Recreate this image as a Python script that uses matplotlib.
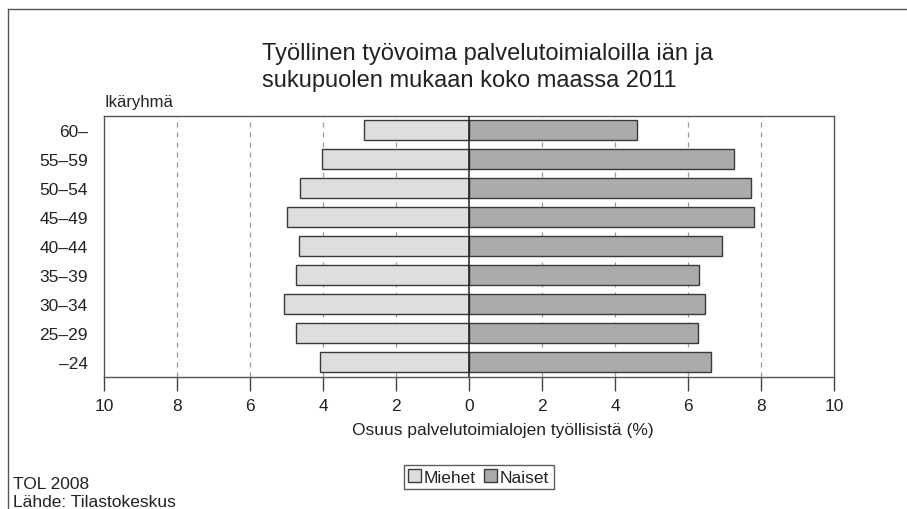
import numpy as np
import matplotlib
matplotlib.use("Agg")
import matplotlib.pyplot as plt
from matplotlib.lines import Line2D

plt.rcParams['font.family'] = ['Liberation Sans', 'DejaVu Sans']

# data (% of employed in service industries)
age_groups = ["\u201324", "25\u201329", "30\u201334", "35\u201339", "40\u201344",
              "45\u201349", "50\u201354", "55\u201359", "60\u2013"]
men = [4.07, 4.74, 5.07, 4.75, 4.65, 5.0, 4.62, 4.04, 2.87]
women = [6.62, 6.27, 6.47, 6.31, 6.94, 7.82, 7.72, 7.26, 4.61]
xticks = [-10, -8, -6, -4, -2, 0, 2, 4, 6, 8, 10]

W, H = 907, 510
fig = plt.figure(figsize=(W / 100, H / 100), dpi=100)
ax = fig.add_axes([104 / W, 1 - 377.7 / H, (834 - 104) / W, (377.7 - 116.7) / H])

y = np.arange(len(age_groups))
ax.barh(y, -np.array(men), height=0.67, color="#dedede", edgecolor="#3a3a3a",
        linewidth=1, label="Miehet", zorder=3)
ax.barh(y, women, height=0.67, color="#ababab", edgecolor="#3a3a3a",
        linewidth=1, label="Naiset", zorder=3)

# gridlines + zero line
for v in xticks:
    if v in (-10, 0, 10):
        continue
    ax.axvline(v, color="#9a9a9a", linestyle=(0, (4, 4)), linewidth=0.9, zorder=1)
ax.axvline(0, color="#222222", linewidth=1.1, zorder=4)

ax.set_xlim(-10, 10)
ax.set_ylim(-0.5, len(age_groups) - 0.5)
ax.set_xticks(xticks, [str(abs(v)) for v in xticks])
ax.set_yticks(y, age_groups)
ax.tick_params(axis="x", direction="out", length=10, width=1, color="#444444",
               labelsize=12.5, pad=5, labelcolor="#222222")
ax.tick_params(axis="y", length=0, labelsize=12.5, pad=11.5, labelcolor="#222222")
for s in ax.spines.values():
    s.set_color("#555555")
    s.set_linewidth(1)

# texts
fig.text(262 / W, 1 - 60 / H, "Työllinen työvoima palvelutoimialoilla iän ja",
         fontsize=17, va="baseline", ha="left", color="#222222")
fig.text(262 / W, 1 - 87 / H, "sukupuolen mukaan koko maassa 2011",
         fontsize=17, va="baseline", ha="left", color="#222222")
fig.text(105 / W, 1 - 107 / H, "Ikäryhmä", fontsize=12, va="baseline", ha="left",
         color="#222222")
fig.text(352 / W, 1 - 431 / H, "Osuus palvelutoimialojen työllisistä (%)",
         fontsize=12.5, ha="left", va="center", color="#222222")
fig.text(13 / W, 1 - 485 / H, "TOL 2008", fontsize=12.5, ha="left", va="center",
         color="#222222")
fig.text(13 / W, 1 - 503 / H, "Lähde: Tilastokeskus", fontsize=12.5, ha="left",
         va="center", color="#222222")

leg = fig.legend(loc="center", bbox_to_anchor=(478.7 / W, 1 - 478 / H), ncol=2,
                 fontsize=12.5, frameon=True, fancybox=False, edgecolor="#333333",
                 handlelength=0.75, handleheight=0.75, handletextpad=0.15,
                 columnspacing=0.5, borderpad=0.25, borderaxespad=0)
leg.get_frame().set_linewidth(1)
for t in leg.get_texts():
    t.set_color("#222222")

# figure border (top and left)
fig.add_artist(Line2D([8 / W, 1], [1 - 10 / H, 1 - 10 / H], color="#555555",
                      linewidth=1, transform=fig.transFigure))
fig.add_artist(Line2D([8 / W, 8 / W], [1 - 10 / H, 0], color="#555555",
                      linewidth=1, transform=fig.transFigure))

fig.savefig("out.png", dpi=100)
